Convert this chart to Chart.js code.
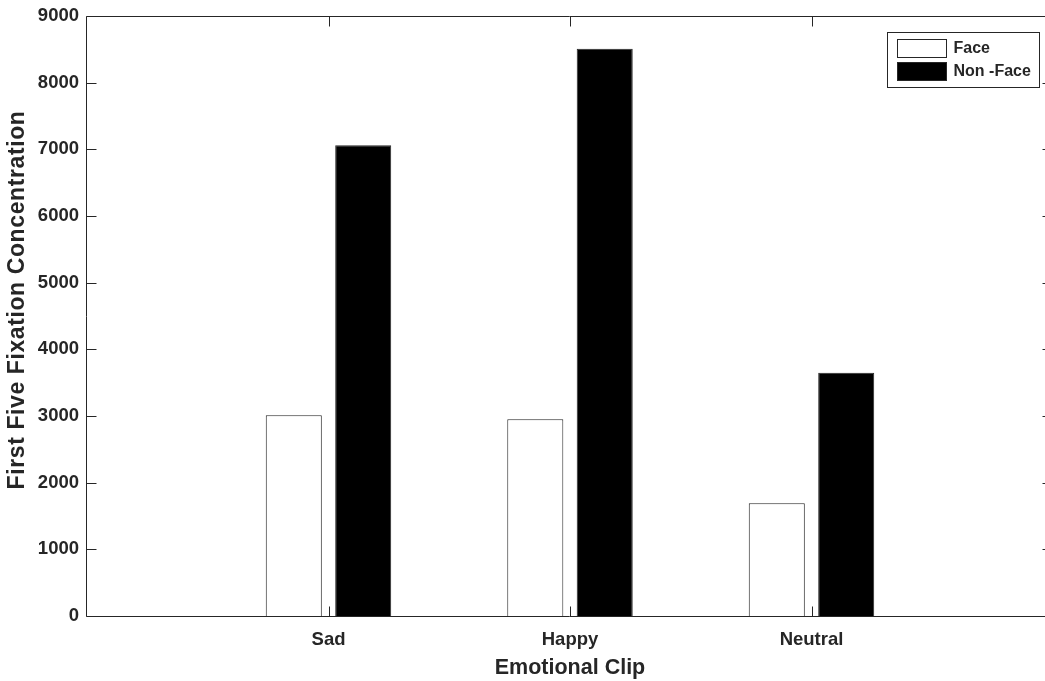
<!DOCTYPE html>
<html>
<head>
<meta charset="utf-8">
<script src="https://cdn.jsdelivr.net/npm/chart.js@4/dist/chart.umd.min.js"></script>
<style>
  html, body { margin: 0; padding: 0; background: #fff; overflow: hidden; }
  canvas { display: block; }
</style>
</head>
<body>
<canvas id="chart" width="1066" height="681"></canvas>
<script>
// Values per emotional clip
const categories = ['Sad', 'Happy', 'Neutral'];
const faceValues = [3010, 2950, 1690];
const nonFaceValues = [7060, 8510, 3650];
const seriesNames = ['Face', 'Non -Face'];
const yTicks = [0, 1000, 2000, 3000, 4000, 5000, 6000, 7000, 8000, 9000];
const xTitle = 'Emotional Clip';
const yTitle = 'First Five Fixation Concentration';

const INK = '#262626';
const FONT = "'Liberation Sans', Arial, Helvetica, sans-serif";

// The x axis runs from slot 0 to slot 4; the clips sit on slots 1..3.
const slots = ['', ...categories, ''];
const padEnds = arr => [null, ...arr, null];

// Box around the axes with inward tick marks on all four sides.
const axesFrame = {
  id: 'axesFrame',
  afterDatasetsDraw(chart) {
    const { ctx, chartArea: a, scales: { x, y } } = chart;
    const L = Math.round(a.left) - 0.5, R = Math.round(a.right) - 0.5;
    const T = Math.round(a.top) + 0.5, B = Math.round(a.bottom) + 0.5;
    const len = 10;
    ctx.save();
    ctx.strokeStyle = INK;
    ctx.lineWidth = 1;
    ctx.beginPath();
    ctx.rect(L, T, R - L, B - T);
    yTicks.forEach(v => {
      const py = Math.round(y.getPixelForValue(v)) + 0.5;
      ctx.moveTo(L, py); ctx.lineTo(L + len, py);
      ctx.moveTo(R, py); ctx.lineTo(R - len, py);
    });
    categories.forEach((c, i) => {
      const px = Math.round(x.getPixelForValue(i + 1)) + 0.5;
      ctx.moveTo(px, B); ctx.lineTo(px, B - len);
      ctx.moveTo(px, T); ctx.lineTo(px, T + len);
    });
    ctx.stroke();
    ctx.restore();
  }
};

// Rotated y-axis title, slightly letter-spaced.
const yAxisTitle = {
  id: 'yAxisTitle',
  afterDraw(chart) {
    const { ctx, chartArea: a } = chart;
    ctx.save();
    ctx.translate(18, (a.top + a.bottom) / 2 - 16);
    ctx.rotate(-Math.PI / 2);
    ctx.font = 'bold 23px ' + FONT;
    if ('letterSpacing' in ctx) ctx.letterSpacing = '0.6px';
    ctx.fillStyle = INK;
    ctx.textAlign = 'center';
    ctx.textBaseline = 'middle';
    ctx.fillText(yTitle, 0, 0);
    ctx.restore();
  }
};

// Boxed legend in the upper right corner of the axes.
const boxedLegend = {
  id: 'boxedLegend',
  afterDraw(chart) {
    const { ctx, chartArea: a } = chart;
    const boxW = 152, boxH = 55;
    const bx = Math.round(a.right - 14 - boxW) + 0.5;
    const by = Math.round(a.top + 16) + 0.5;
    ctx.save();
    ctx.fillStyle = '#fff';
    ctx.strokeStyle = INK;
    ctx.lineWidth = 1;
    ctx.fillRect(bx, by, boxW, boxH);
    ctx.strokeRect(bx, by, boxW, boxH);
    ctx.font = 'bold 16px ' + FONT;
    ctx.textBaseline = 'middle';
    ctx.textAlign = 'left';
    chart.data.datasets.forEach((ds, i) => {
      const sy = by + 7 + i * 23;
      ctx.fillStyle = ds.backgroundColor;
      ctx.fillRect(bx + 10, sy, 49, 18);
      ctx.strokeStyle = ds.borderColor;
      ctx.strokeRect(bx + 10, sy, 49, 18);
      ctx.fillStyle = INK;
      ctx.fillText(ds.label, bx + 66, sy + 9.5);
    });
    ctx.restore();
  }
};

new Chart(document.getElementById('chart'), {
  type: 'bar',
  data: {
    labels: slots,
    datasets: [
      {
        label: seriesNames[0],
        data: padEnds(faceValues),
        backgroundColor: '#ffffff',
        borderColor: INK,
        borderWidth: 1
      },
      {
        label: seriesNames[1],
        data: padEnds(nonFaceValues),
        backgroundColor: '#000000',
        borderColor: INK,
        borderWidth: 1
      }
    ]
  },
  options: {
    responsive: false,
    animation: false,
    devicePixelRatio: 1,
    categoryPercentage: 0.575,
    barPercentage: 0.807,
    layout: { padding: { top: 16, right: 5, left: 0, bottom: 0 } },
    plugins: {
      legend: { display: false },
      tooltip: { enabled: false }
    },
    scales: {
      x: {
        type: 'category',
        offset: false,
        grid: { display: false, drawTicks: false },
        border: { display: false },
        ticks: {
          color: INK,
          font: { family: FONT, size: 18.5, weight: 'bold' },
          padding: 13,
          maxRotation: 0,
          autoSkip: false
        },
        title: {
          display: true,
          text: xTitle,
          color: INK,
          font: { family: FONT, size: 21.5, weight: 'bold' },
          padding: { top: 0, bottom: 0 }
        },
        afterFit(scale) { scale.height = 65; }
      },
      y: {
        min: 0,
        max: 9000,
        grid: { display: false, drawTicks: false },
        border: { display: false },
        afterBuildTicks(scale) { scale.ticks = yTicks.map(v => ({ value: v })); },
        ticks: {
          color: INK,
          font: { family: FONT, size: 18.5, weight: 'bold' },
          padding: 8,
          callback: v => String(v)
        },
        afterFit(scale) {
          scale.width = 87;
          scale.paddingTop = 0;
          scale.paddingBottom = 0;
        }
      }
    }
  },
  plugins: [axesFrame, yAxisTitle, boxedLegend]
});
</script>
</body>
</html>
